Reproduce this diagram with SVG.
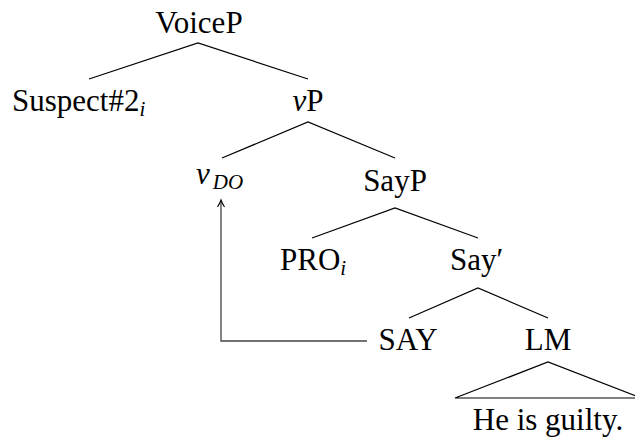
<svg xmlns="http://www.w3.org/2000/svg" width="635" height="438" viewBox="0 0 635 438">
<style>
.e{stroke:#000;stroke-width:1.2;fill:none}
.mv{stroke:#444;stroke-width:1.3;fill:none}
.ah{stroke:#000;stroke-width:1.1;fill:none}
</style>
<rect width="635" height="438" fill="#fff"/>
<g id="edges">
<path class="e" d="M89,79 L198,43 L308,79"/>
<path class="e" d="M222,158 L308,122 L395,158"/>
<path class="e" d="M312,238 L395,208 L478,238"/>
<path class="e" d="M409,318 L478,288 L548,318"/>
<path class="e" d="M455,398 L548,362 L641,398 Z"/>
<path class="mv" d="M367,341 L221,341 L221,201"/>
<path class="ah" d="M217.5,207 Q220,203 221,200 Q222,203 224.5,207"/>
</g>
<g id="VoiceP"><text style="font-family:'Liberation Serif',serif;font-size:31px" x="199" y="33" text-anchor="middle">VoiceP</text></g>
<g id="Suspect2"><text style="font-family:'Liberation Serif',serif;font-size:31px" x="12" y="111">Suspect#2<tspan style="font-size:21px;font-style:italic" dy="5">i</tspan></text></g>
<g id="vP"><text style="font-family:'Liberation Serif',serif;font-size:31px" x="308" y="111" text-anchor="middle"><tspan style="font-style:italic">v</tspan>P</text></g>
<g id="vDO"><text style="font-family:'Liberation Serif',serif;font-size:31px;font-style:italic" x="196" y="184">v<tspan style="font-size:21px" dx="3" dy="5">DO</tspan></text></g>
<g id="SayP"><text style="font-family:'Liberation Serif',serif;font-size:31px" x="395" y="191" text-anchor="middle">SayP</text></g>
<g id="PRO"><text style="font-family:'Liberation Serif',serif;font-size:31px" x="280" y="270">PRO<tspan style="font-size:21px;font-style:italic" dy="5">i</tspan></text></g>
<g id="SayBar"><text style="font-family:'Liberation Serif',serif;font-size:31px" x="450" y="270">Say′</text></g>
<g id="SAY"><text style="font-family:'Liberation Serif',serif;font-size:31px" x="408" y="350" text-anchor="middle">SAY</text></g>
<g id="LM"><text style="font-family:'Liberation Serif',serif;font-size:31px" x="548" y="350" text-anchor="middle">LM</text></g>
<g id="HeIsGuilty"><text style="font-family:'Liberation Serif',serif;font-size:31px" x="548" y="430" text-anchor="middle">He is guilty.</text></g>
</svg>
